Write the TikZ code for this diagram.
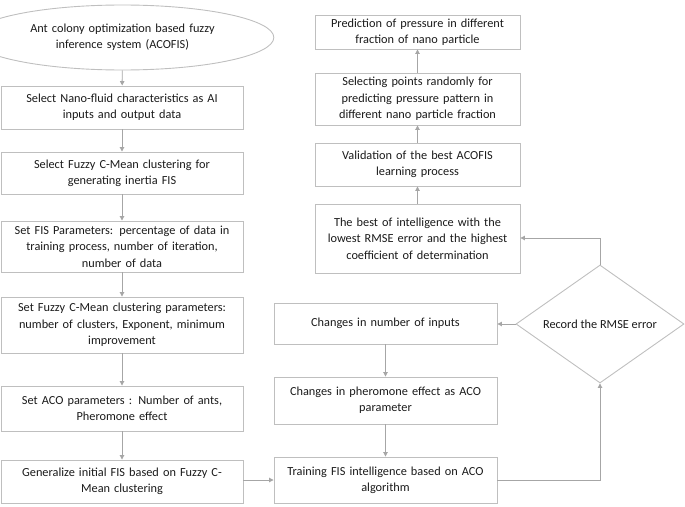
\documentclass[tikz,border=0pt]{standalone}
\usepackage{fontspec}
\setmainfont{Carlito}
\usetikzlibrary{arrows.meta,shapes.geometric}
\definecolor{boxline}{HTML}{BFBFBF}
\definecolor{arrline}{HTML}{A6A6A6}
\definecolor{txt}{HTML}{1A1A1A}
\tikzset{
  box/.style={draw=boxline, line width=0.9pt, rectangle, inner sep=2pt, align=center,
    text=txt, font=\fontsize{12.3}{16.3}\selectfont},
  arr/.style={draw=arrline, line width=0.9pt, -{Triangle[width=4.5pt,length=4.5pt]}},
}
\begin{document}
\begin{tikzpicture}[x=1pt,y=-1pt]
\useasboundingbox (0,0) rectangle (685,506);
% left column
\node[box, ellipse, minimum width=240pt, minimum height=65pt, text width=210pt] (e0) at (122.5,37.5)
  {Ant colony optimization based fuzzy\\inference system (ACOFIS)};
\node[box, minimum width=242pt, minimum height=43pt, text width=236pt] (b1) at (122,107.5)
  {Select Nano-fluid characteristics as AI\\inputs and output data};
\node[box, minimum width=242pt, minimum height=42pt, text width=236pt] (b2) at (122,173)
  {Select Fuzzy C-Mean clustering for\\generating inertia FIS};
\node[box, minimum width=242pt, minimum height=51pt, text width=236pt] (b3) at (122,246.5)
  {Set FIS Parameters: percentage of data in\\training process, number of iteration,\\number of data};
\node[box, minimum width=242pt, minimum height=56pt, text width=236pt] (b4) at (122,325)
  {Set Fuzzy C-Mean clustering parameters:\\number of clusters, Exponent, minimum\\improvement};
\node[box, minimum width=242pt, minimum height=45pt, text width=236pt] (b5) at (122,408.5)
  {Set ACO parameters : Number of ants,\\Pheromone effect};
\node[box, minimum width=242pt, minimum height=43pt, text width=236pt] (b6) at (122,481.5)
  {Generalize initial FIS based on Fuzzy C-\\Mean clustering};
% right upper column
\node[box, minimum width=205pt, minimum height=34pt, text width=200pt] (r1) at (417.5,32)
  {Prediction of pressure in different\\fraction of nano particle};
\node[box, minimum width=205pt, minimum height=52pt, text width=200pt] (r2) at (417.5,99)
  {Selecting points randomly for\\predicting pressure pattern in\\different nano particle fraction};
\node[box, minimum width=205pt, minimum height=43pt, text width=200pt] (r3) at (417.5,164.5)
  {Validation of the best ACOFIS\\learning process};
\node[box, minimum width=205pt, minimum height=69pt, text width=200pt] (r4) at (417.5,238.5)
  {The best of intelligence with the\\lowest RMSE error and the highest\\coefficient of determination};
% middle lower column
\node[box, minimum width=223pt, minimum height=41pt, text width=218pt] (c1) at (385.5,323.5)
  {Changes in number of inputs};
\node[box, minimum width=223pt, minimum height=47pt, text width=218pt] (c2) at (385.5,400.5)
  {Changes in pheromone effect as ACO\\parameter};
\node[box, minimum width=223pt, minimum height=46pt, text width=218pt] (c3) at (385.5,480)
  {Training FIS intelligence based on ACO\\algorithm};
% diamond
\node[draw=boxline, line width=0.9pt, diamond, aspect=1.42, inner sep=0pt, minimum width=168pt,
  minimum height=118pt, text=txt, font=\fontsize{12.3}{16.3}\selectfont] (d) at (600,324)
  {Record the RMSE error};
\coordinate (dd) at (600,480);
\coordinate (du) at (600,238);
% arrows
\draw[arr] (e0) -- (b1);
\draw[arr] (b1) -- (b2);
\draw[arr] (b2) -- (b3);
\draw[arr] (b3) -- (b4);
\draw[arr] (b4) -- (b5);
\draw[arr] (b5) -- (b6);
\draw[arr] (b6.east |- c3.west) -- (c3.west);
\draw[arr] (c1) -- (c2);
\draw[arr] (c2) -- (c3);
\draw[arr] (c3.east) -- (dd) -- (d.south);
\draw[arr] (d.west) -- (c1.east |- d.west);
\draw[arr] (d.north) -- (du) -- (r4.east |- du);
\draw[arr] (r4) -- (r3);
\draw[arr] (r3) -- (r2);
\draw[arr] (r2) -- (r1);
\end{tikzpicture}
\end{document}
